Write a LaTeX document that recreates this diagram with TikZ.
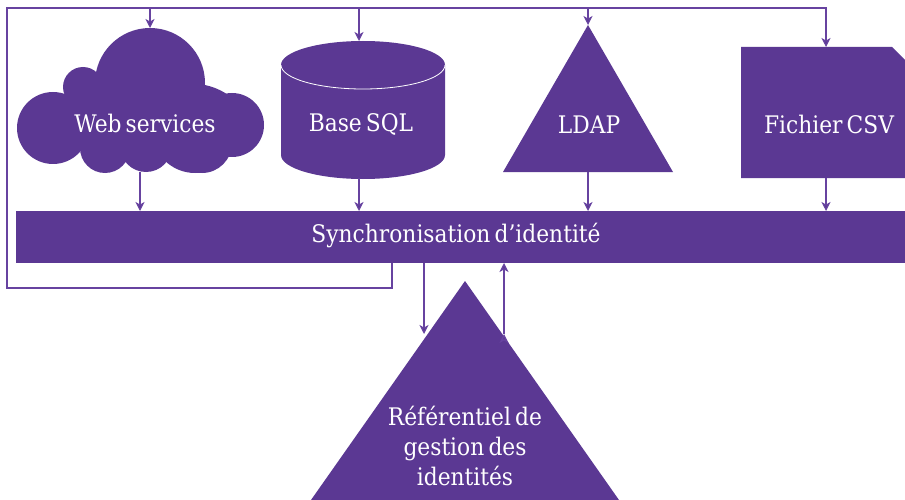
\documentclass[tikz,border=0pt]{standalone}
\usepackage{fontspec}
\setmainfont[WordSpace=0.6]{DejaVu Serif Condensed}
\usepackage{tikz}
\usetikzlibrary{arrows.meta, positioning}
\definecolor{idpurple}{HTML}{5B3893}
\definecolor{idline}{HTML}{6743A0}
\tikzset{
	shapefill/.style={fill=idpurple, draw=none},
	label/.style={text=white, font=\fontsize{24.2}{30}\selectfont, inner sep=0pt, align=center},
	wire/.style={draw=idline, line width=1.2pt},
	flow/.style={wire, -{Stealth[length=9pt, width=9pt, inset=2.5pt, fill=idpurple]}}
}

\begin{document}
\begin{tikzpicture}[x=1pt, y=-1pt]
	\useasboundingbox (0,0) rectangle (905,500);

	% cloud
	\foreach \cx/\cy/\cr in {150/83/55, 83/87/20, 53/128/36, 232/125/32, 105/148/25, 146/146/26, 195/130/43, 202/143/30}
		\fill[idpurple] (\cx,\cy) circle (\cr);
	\fill[idpurple] (60,100) rectangle (230,150);
	\fill[idpurple] (205,85) .. controls (218,88) and (226,93) .. (232,98) -- (200,120) -- cycle;
	% cylinder
	\path[shapefill] (281,65) arc[start angle=180, end angle=360, x radius=82, y radius=24]
	-- (445,155) arc[start angle=0, end angle=180, x radius=82, y radius=24] -- cycle;
	\draw[white, line width=0.8pt] (281,65) arc[start angle=180, end angle=0, x radius=82, y radius=24];
	% triangles and file
	\path[shapefill] (588,25) -- (673,172) -- (503,172) -- cycle;
	\path[shapefill] (741,47) -- (892,47) -- (905,60) -- (905,178) -- (741,178) -- cycle;
	\path[shapefill] (465,281) -- (619,500) -- (311,500) -- cycle;

	\node[shapefill, minimum width=889pt, minimum height=52pt, inner sep=0pt] (bar) at (460.5,237) {};

	\node[label] (web) at (145,123) {Web services};
	\node[label] (sql) at (361,124) {Base SQL};
	\node[label] (ldap) at (589,125) {LDAP};
	\node[label] (csv) at (829,124) {Fichier CSV};
	\node[label] (sync) at (456,236) {Synchronisation d’identité};
	\node[label] (ref) at (465,446) {Référentiel de\\gestion des\\identités};

	\coordinate (tap) at (392,263);
	\coordinate (c-a) at (392,288);
	\coordinate (c-b) at (7,288);
	\coordinate (c-c) at (7,8);
	\coordinate (c-d) at (826,8);
	\coordinate (web-t) at (150,8);
	\coordinate (sql-t) at (359,8);
	\coordinate (ldap-t) at (588,8);
	\coordinate (web-in) at (150,28);
	\coordinate (sql-in) at (359,41);
	\coordinate (ldap-in) at (588,25);
	\coordinate (csv-in) at (826,47);
	\coordinate (web-out) at (140,172);
	\coordinate (sql-out) at (359,178);
	\coordinate (ldap-out) at (588,172);
	\coordinate (csv-out) at (826,178);
	\coordinate (bar-web) at (140,211);
	\coordinate (bar-sql) at (359,211);
	\coordinate (bar-ldap) at (588,211);
	\coordinate (bar-csv) at (826,211);
	\coordinate (bar-down) at (424,263);
	\coordinate (ref-in) at (424,334);
	\coordinate (ref-out) at (504,334);
	\coordinate (bar-up) at (504,263);

	\draw[flow] (tap) -- (c-a) -- (c-b) -- (c-c) -- (c-d) -- (csv-in);
	\path[flow]
	(web-t) edge (web-in)
	(sql-t) edge (sql-in)
	(ldap-t) edge (ldap-in)
	(web-out) edge (bar-web)
	(sql-out) edge (bar-sql)
	(ldap-out) edge (bar-ldap)
	(csv-out) edge (bar-csv)
	(bar-down) edge (ref-in)
	(ref-out) edge (bar-up)
	;
\end{tikzpicture}
\end{document}
